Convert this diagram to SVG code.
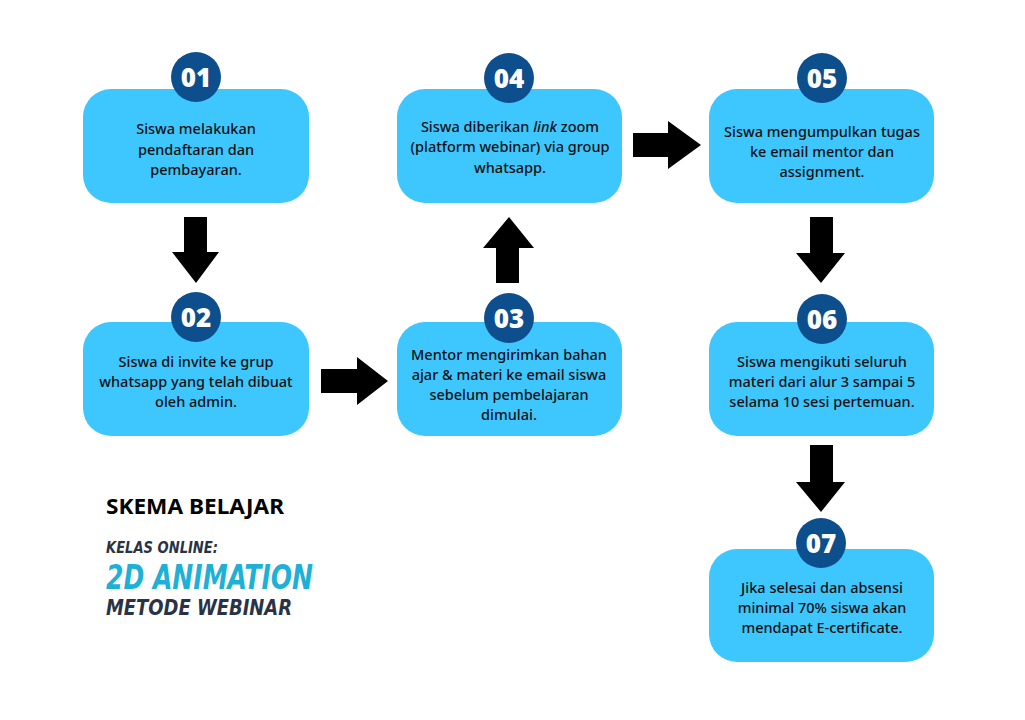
<svg xmlns="http://www.w3.org/2000/svg" width="1025" height="720" viewBox="0 0 1025 720">
<style>
.box{fill:#3EC6FF}
.badge{fill:#0D4E8C}
.num{font-family:"Noto Sans","DejaVu Sans",sans-serif;font-weight:900;font-size:26px;fill:#fff;text-anchor:middle}
.txt{font-family:"Noto Sans","Open Sans",sans-serif;font-weight:500;font-size:14.5px;fill:#111;text-anchor:middle}
.arr{fill:#000}
.title{font-family:"Noto Sans","DejaVu Sans",sans-serif;font-weight:700;font-size:21px;fill:#000}
.brush{font-family:"DejaVu Sans Condensed","DejaVu Sans",sans-serif;font-weight:700;font-style:italic}
</style>
<rect width="1025" height="720" fill="#fff"/>
<g id="connectors">
<polygon class="arr" points="184,217 207,217 207,252 219,252 196,283 172,252 184,252"/>
<polygon class="arr" points="321,369 357,369 357,357 388,381 357,405 357,393 321,393"/>
<polygon class="arr" points="496,283 519,283 519,248 534,248 509,217 483,248 496,248"/>
<polygon class="arr" points="633,133 668,133 668,121 701,145 668,169 668,157 633,157"/>
<polygon class="arr" points="810,217 833,217 833,253 845,253 821,283 796,253 810,253"/>
<polygon class="arr" points="810,445 833,445 833,482 845,482 821,512 796,482 810,482"/>
</g>
<g id="node01">
<rect class="box" x="83" y="89" width="226" height="114" rx="28"/>
<circle class="badge" cx="196" cy="77" r="25"/>
<text class="num" x="196" y="87">01</text>
<text class="txt" x="196" y="134">Siswa melakukan</text>
<text class="txt" x="196" y="155">pendaftaran dan</text>
<text class="txt" x="196" y="175">pembayaran.</text>
</g>
<g id="node02">
<rect class="box" x="83" y="322" width="226" height="114" rx="28"/>
<circle class="badge" cx="196" cy="317" r="25"/>
<text class="num" x="196" y="327">02</text>
<text class="txt" x="196" y="367">Siswa di invite ke grup</text>
<text class="txt" x="196" y="387">whatsapp yang telah dibuat</text>
<text class="txt" x="196" y="407">oleh admin.</text>
</g>
<g id="node03">
<rect class="box" x="397" y="322" width="225" height="114" rx="28"/>
<circle class="badge" cx="509" cy="318" r="25"/>
<text class="num" x="509" y="328">03</text>
<text class="txt" x="509" y="360">Mentor mengirimkan bahan</text>
<text class="txt" x="509" y="380">ajar &amp; materi ke email siswa</text>
<text class="txt" x="509" y="400">sebelum pembelajaran</text>
<text class="txt" x="509" y="420">dimulai.</text>
</g>
<g id="node04">
<rect class="box" x="397" y="89" width="225" height="114" rx="28"/>
<circle class="badge" cx="509" cy="78" r="25"/>
<text class="num" x="509" y="88">04</text>
<text class="txt" x="510" y="132">Siswa diberikan <tspan font-style="italic">link</tspan> zoom</text>
<text class="txt" x="510" y="152">(platform webinar) via group</text>
<text class="txt" x="510" y="173">whatsapp.</text>
</g>
<g id="node05">
<rect class="box" x="709" y="89" width="225" height="114" rx="28"/>
<circle class="badge" cx="822" cy="78" r="25"/>
<text class="num" x="822" y="88">05</text>
<text class="txt" x="822" y="137">Siswa mengumpulkan tugas</text>
<text class="txt" x="822" y="157">ke email mentor dan</text>
<text class="txt" x="822" y="177">assignment.</text>
</g>
<g id="node06">
<rect class="box" x="709" y="322" width="225" height="114" rx="28"/>
<circle class="badge" cx="822" cy="319" r="25"/>
<text class="num" x="822" y="329">06</text>
<text class="txt" x="822" y="367">Siswa mengikuti seluruh</text>
<text class="txt" x="822" y="387">materi dari alur 3 sampai 5</text>
<text class="txt" x="822" y="407">selama 10 sesi pertemuan.</text>
</g>
<g id="node07">
<rect class="box" x="709" y="549" width="225" height="113" rx="28"/>
<circle class="badge" cx="821" cy="543" r="25"/>
<text class="num" x="821" y="553">07</text>
<text class="txt" x="822" y="593">Jika selesai dan absensi</text>
<text class="txt" x="822" y="613">minimal 70% siswa akan</text>
<text class="txt" x="822" y="633">mendapat E-certificate.</text>
</g>
<g id="title">
<text class="title" x="106" y="514" textLength="178" lengthAdjust="spacingAndGlyphs">SKEMA BELAJAR</text>
<text class="brush" x="106" y="553" font-size="16" fill="#2A3345" textLength="112" lengthAdjust="spacingAndGlyphs">KELAS ONLINE:</text>
<text class="brush" x="106" y="589" font-size="33" fill="#1FB0D8" textLength="207" lengthAdjust="spacingAndGlyphs">2D ANIMATION</text>
<text class="brush" x="106" y="615" font-size="21" fill="#2A3345" textLength="186" lengthAdjust="spacingAndGlyphs">METODE WEBINAR</text>
</g>
</svg>
